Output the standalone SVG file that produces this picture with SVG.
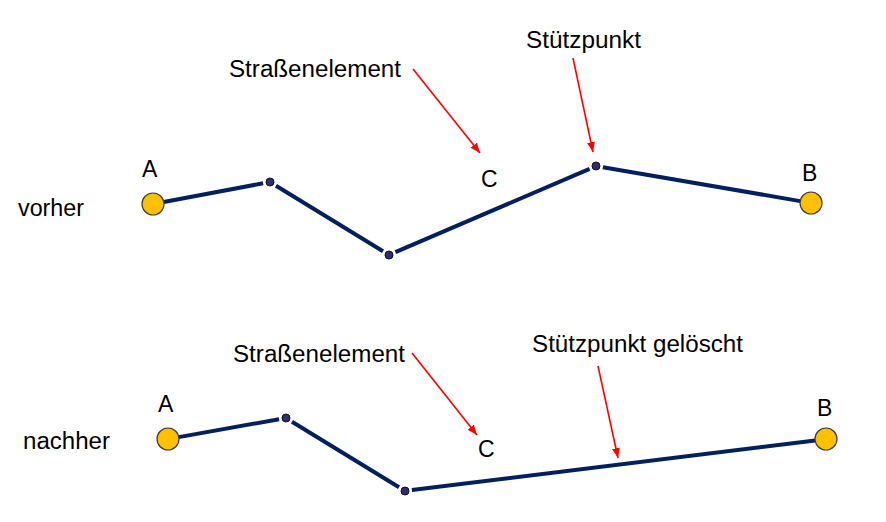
<svg xmlns="http://www.w3.org/2000/svg" width="886" height="522" viewBox="0 0 886 522">
<style>
text{font-family:"Liberation Sans",Arial,sans-serif;font-size:23px;fill:#000}
.road{stroke:#022060;stroke-width:4;fill:none;stroke-linecap:butt}
.end{fill:#ffc000;stroke:#3a3a3a;stroke-width:1.2}
.pt{fill:#2e2e78;stroke:#111;stroke-width:1}
.ptr{stroke:#ff0000;stroke-width:1.6;fill:none}
</style>
<defs>
<marker id="ah" markerUnits="userSpaceOnUse" markerWidth="12" markerHeight="10" refX="10" refY="4" orient="auto">
<path d="M0,0 L10,4 L0,8 Z" fill="#ff0000"/>
</marker>
</defs>
<rect width="886" height="522" fill="#fff"/>
<g id="labels">
<text x="18" y="216" textLength="66" lengthAdjust="spacingAndGlyphs">vorher</text>
<text x="23" y="449" textLength="87" lengthAdjust="spacingAndGlyphs">nachher</text>
<text x="229" y="77" textLength="172" lengthAdjust="spacingAndGlyphs">Straßenelement</text>
<text x="526" y="48" textLength="115" lengthAdjust="spacingAndGlyphs">Stützpunkt</text>
<text x="233" y="362" textLength="172" lengthAdjust="spacingAndGlyphs">Straßenelement</text>
<text x="532" y="352" textLength="211" lengthAdjust="spacingAndGlyphs">Stützpunkt gelöscht</text>
</g>
<g id="connectors">
<line class="road" x1="163.8" y1="202" x2="263.1" y2="183.3"/>
<line class="road" x1="276" y1="185.7" x2="383" y2="251.3"/>
<line class="road" x1="395.4" y1="252.2" x2="589.6" y2="168.8"/>
<line class="road" x1="602.9" y1="167.2" x2="800.2" y2="201.1"/>
<line class="road" x1="178.8" y1="437.1" x2="279.1" y2="419.2"/>
<line class="road" x1="292" y1="421.7" x2="399" y2="487.3"/>
<line class="road" x1="411.9" y1="490.1" x2="815.1" y2="440.4"/>
<line class="ptr" x1="413" y1="69" x2="480" y2="153" marker-end="url(#ah)"/>
<line class="ptr" x1="573" y1="58" x2="593" y2="152" marker-end="url(#ah)"/>
<line class="ptr" x1="412" y1="353" x2="477" y2="435" marker-end="url(#ah)"/>
<line class="ptr" x1="598" y1="366" x2="618" y2="458" marker-end="url(#ah)"/>
</g>
<g id="top-A"><circle class="end" cx="153" cy="204" r="11"/><text x="142" y="177">A</text></g>
<g id="top-v1"><circle class="pt" cx="270" cy="182" r="4"/></g>
<g id="top-v2"><circle class="pt" cx="389" cy="255" r="4"/></g>
<g id="top-C"><text x="481" y="187">C</text></g>
<g id="top-B"><circle class="end" cx="811" cy="203" r="11"/><text x="802" y="181">B</text></g>
<g id="top-v3"><circle class="pt" cx="596" cy="166" r="4"/></g>
<g id="bot-A"><circle class="end" cx="168" cy="439" r="11"/><text x="158" y="412">A</text></g>
<g id="bot-v1"><circle class="pt" cx="286" cy="418" r="4"/></g>
<g id="bot-v2"><circle class="pt" cx="405" cy="491" r="4"/></g>
<g id="bot-C"><text x="478" y="457">C</text></g>
<g id="bot-B"><circle class="end" cx="826" cy="439" r="11"/><text x="817" y="416">B</text></g>
</svg>
